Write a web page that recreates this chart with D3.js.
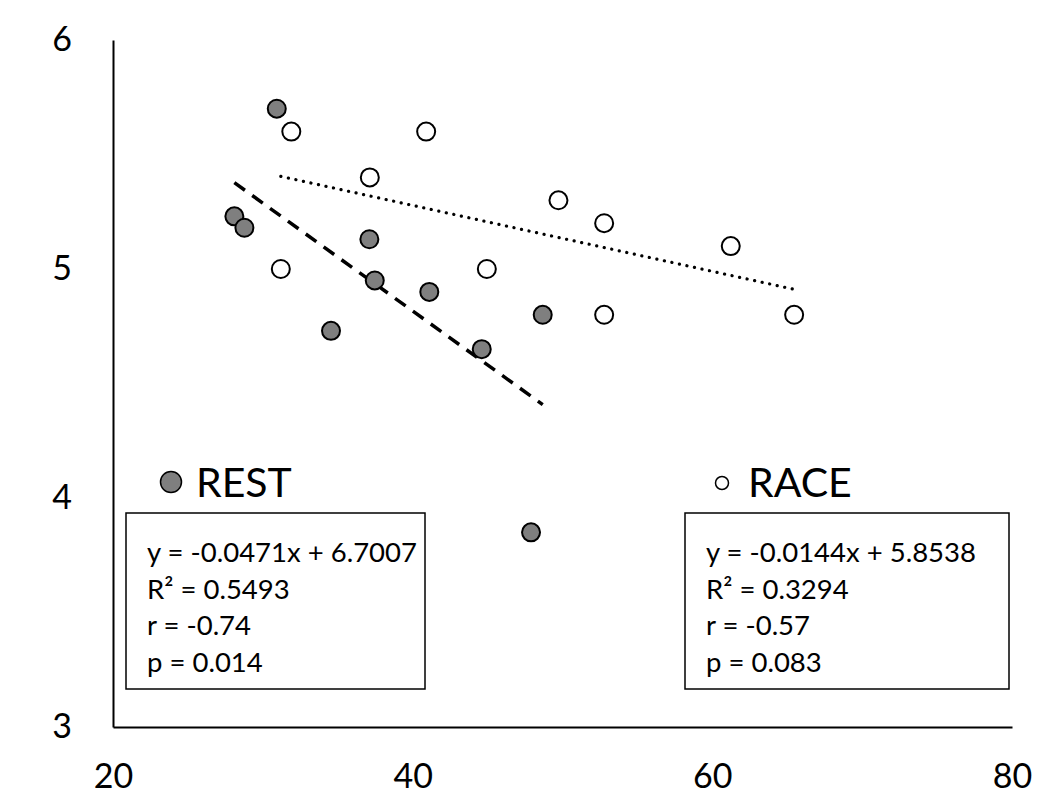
<!DOCTYPE html>
<html>
<head>
<meta charset="utf-8">
<script src="https://cdn.jsdelivr.net/npm/d3@7"></script>
<style>
  body { margin: 0; background: #fff; }
  text { font-family: Lato, "Open Sans", sans-serif; fill: #000; }
</style>
</head>
<body>
<svg id="chart" width="1059" height="795"></svg>
<script>
// ---- data ----
const restX = [30.93, 28.10, 28.77, 37.11, 37.47, 41.11, 34.55, 48.68, 44.61, 47.90];
const restY = [5.70, 5.23, 5.18, 5.13, 4.95, 4.90, 4.73, 4.80, 4.65, 3.85];
const raceX = [31.9, 40.9, 37.14, 31.2, 49.73, 52.78, 61.23, 44.95, 52.78, 65.46];
const raceY = [5.60, 5.60, 5.40, 5.00, 5.30, 5.20, 5.10, 5.00, 4.80, 4.80];
const restFit = { slope: -0.0471, intercept: 6.7007 };
const raceFit = { slope: -0.0144, intercept: 5.8538 };
const xTicks = [20, 40, 60, 80];
const yTicks = [3, 4, 5, 6];
const restStats = ["y = -0.0471x + 6.7007", "R² = 0.5493", "r = -0.74", "p = 0.014"];
const raceStats = ["y = -0.0144x + 5.8538", "R² = 0.3294", "r = -0.57", "p = 0.083"];

const svg = d3.select("#chart");
const x = d3.scaleLinear().domain([20, 80]).range([113, 1012]);
const y = d3.scaleLinear().domain([3, 6]).range([727, 40]);

// axes
const xAxis = svg.append("g").attr("transform", `translate(0,${y(3)})`)
  .call(d3.axisBottom(x).tickValues(xTicks).tickFormat(d3.format("d")).tickSize(0).tickPadding(37));
const yAxis = svg.append("g").attr("transform", `translate(${x(20)},0)`)
  .call(d3.axisLeft(y).tickValues(yTicks).tickFormat(d3.format("d")).tickSize(0).tickPadding(41));
[xAxis, yAxis].forEach(a => {
  a.select(".domain").attr("stroke", "#000").attr("stroke-width", 2);
  a.selectAll("text").style("font-size", "34px").style("font-family", "Lato, 'Open Sans', sans-serif");
});
xAxis.selectAll("text").attr("dy", "0.71em");

// trendlines
function trend(xs, fit) {
  const x0 = d3.min(xs), x1 = d3.max(xs);
  return [[x0, fit.slope * x0 + fit.intercept], [x1, fit.slope * x1 + fit.intercept]];
}
const line = d3.line().x(d => x(d[0])).y(d => y(d[1]));
svg.append("path").attr("d", line(trend(restX, restFit)))
  .attr("stroke", "#000").attr("stroke-width", 3.5).attr("fill", "none")
  .attr("stroke-dasharray", "13 9");
svg.append("path").attr("d", line(trend(raceX, raceFit)))
  .attr("stroke", "#000").attr("stroke-width", 3.2).attr("fill", "none")
  .attr("stroke-linecap", "round").attr("stroke-dasharray", "0.1 7.6");

// points
svg.append("g").selectAll("circle").data(restX.map((v, i) => [v, restY[i]])).join("circle")
  .attr("cx", d => x(d[0])).attr("cy", d => y(d[1])).attr("r", 9)
  .attr("fill", "#7f7f7f").attr("stroke", "#000").attr("stroke-width", 2);
svg.append("g").selectAll("circle").data(raceX.map((v, i) => [v, raceY[i]])).join("circle")
  .attr("cx", d => x(d[0])).attr("cy", d => y(d[1])).attr("r", 9)
  .attr("fill", "#fff").attr("stroke", "#000").attr("stroke-width", 2);

// legends & stat boxes
function statBox(bx, by, bw, bh, lines) {
  svg.append("rect").attr("x", bx).attr("y", by).attr("width", bw).attr("height", bh)
    .attr("fill", "#fff").attr("stroke", "#000").attr("stroke-width", 1.5);
  lines.forEach((t, i) => {
    svg.append("text").attr("x", bx + 21).attr("y", by + 49 + i * 36.5)
      .style("font-size", "27.5px").text(t);
  });
}
statBox(126, 513, 299, 176, restStats);
statBox(685, 513, 324, 176, raceStats);

svg.append("circle").attr("cx", 171).attr("cy", 482).attr("r", 10.5)
  .attr("fill", "#7f7f7f").attr("stroke", "#000").attr("stroke-width", 1.5);
svg.append("text").attr("x", 196).attr("y", 497).style("font-size", "41px").text("REST");
svg.append("circle").attr("cx", 722).attr("cy", 483).attr("r", 6.5)
  .attr("fill", "#fff").attr("stroke", "#000").attr("stroke-width", 1.5);
svg.append("text").attr("x", 748).attr("y", 497).style("font-size", "41px").text("RACE");
</script>
</body>
</html>
